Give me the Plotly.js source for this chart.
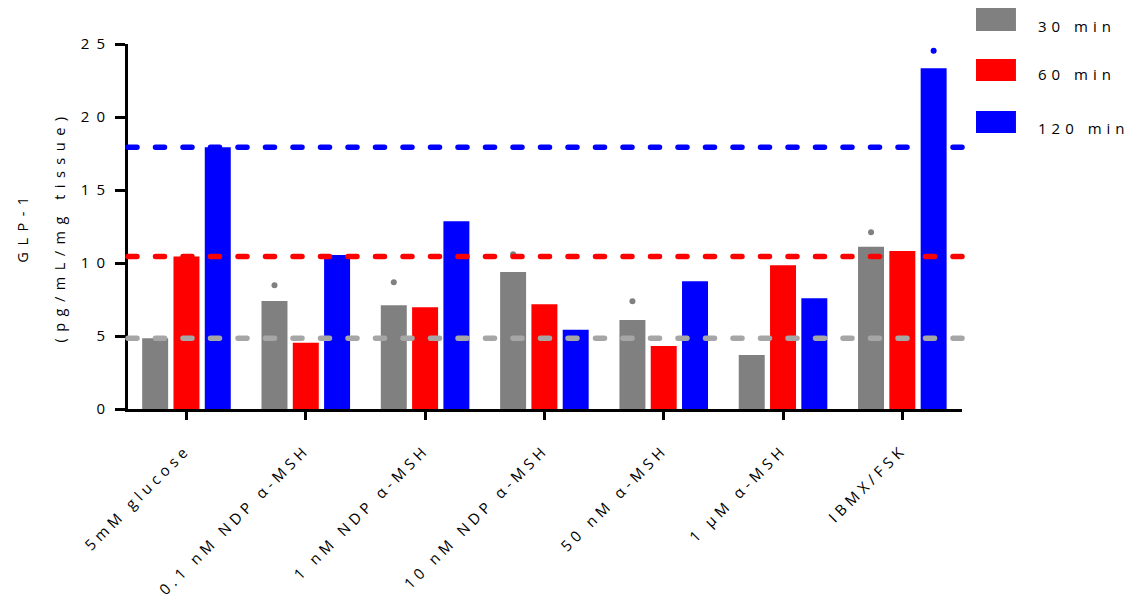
<!DOCTYPE html>
<html>
<head>
<meta charset="utf-8">
<script src="https://cdn.plot.ly/plotly-3.0.1.min.js"></script>
<style>
  html, body { margin: 0; padding: 0; background: #fff; }
  #chart { width: 1138px; height: 600px; }
  /* wide tracking on the labels */
  .xtick text { letter-spacing: 4.5px; }
  .ytick text { letter-spacing: 7px; }
  .g-ytitle text { letter-spacing: 6.5px; }
  .annotation-text { letter-spacing: 5px; }
  /* rounded dash ends on the reference lines */
  .shapelayer path { stroke-linecap: round; }
</style>
</head>
<body>
<div id="chart"></div>
<script>
// Treatments on the x axis
const categories = [
  "5mM glucose",
  "0.1 nM NDP \u03b1-MSH",
  "1 nM NDP \u03b1-MSH",
  "10 nM NDP \u03b1-MSH",
  "50 nM \u03b1-MSH",
  "1 \u00b5M \u03b1-MSH",
  "IBMX/FSK"
];

// Mean GLP-1 secretion (pg/mL/mg tissue) per incubation time
const min30  = [4.84, 7.40, 7.10, 9.38, 6.10, 3.70, 11.12];
const min60  = [10.45, 4.54, 6.97, 7.17, 4.32, 9.84, 10.82];
const min120 = [17.92, 10.55, 12.86, 5.43, 8.75, 7.58, 23.34];

// Single marked points above the bars
const dots30  = [null, 8.47, 8.68, 10.6, 7.38, null, 12.1];
const dots60  = [null, null, null, null, null, null, null];
const dots120 = [null, null, null, null, null, null, 24.54];

const seriesNames = ["30 min", "60 min", "120 min"];
const yTicks = [0, 5, 10, 15, 20, 25];

const colors = ["#808080", "#ff0000", "#0000ff"];
const lineColors = ["#a6a6a6", "#ff0000", "#0000ff"];
const FONT = "Open Sans, DejaVu Sans, sans-serif";

const barSeries = [min30, min60, min120];
const dotSeries = [dots30, dots60, dots120];

const traces = [];
barSeries.forEach((vals, i) => {
  traces.push({
    type: "bar",
    name: seriesNames[i],
    x: categories,
    y: vals,
    marker: { color: colors[i], line: { width: 0 } },
    showlegend: false,
    hoverinfo: "x+y+name"
  });
});
dotSeries.forEach((vals, i) => {
  traces.push({
    type: "scatter",
    mode: "markers",
    name: seriesNames[i],
    x: categories,
    y: vals,
    marker: { color: colors[i], size: 6 },
    showlegend: false,
    cliponaxis: false
  });
});

// Dashed reference lines at the glucose level of each time point
const shapes = barSeries.map((vals, i) => ({
  type: "line",
  xref: "paper", yref: "y",
  x0: 0, x1: 1,
  y0: vals[0], y1: vals[0],
  layer: "above",
  line: { color: lineColors[i], width: 5.5, dash: "9px,18.5px" }
}));

// Legend swatches and labels placed to the right of the plot
const legendY = [[1.0356, 1.0986], [0.8986, 0.959], [0.756, 0.8164]];
const legendTextY = [1.050, 0.918, 0.771];
const annotations = [];
seriesNames.forEach((name, i) => {
  shapes.push({
    type: "rect",
    xref: "paper", yref: "paper",
    x0: 1.0168, x1: 1.0647,
    y0: legendY[i][0], y1: legendY[i][1],
    fillcolor: colors[i],
    line: { width: 0 }
  });
  annotations.push({
    xref: "paper", yref: "paper",
    x: 1.0887, y: legendTextY[i],
    xanchor: "left", yanchor: "middle",
    text: name,
    showarrow: false,
    font: { family: FONT, size: 15, color: "#000" }
  });
});

const layout = {
  width: 1138,
  height: 600,
  margin: { l: 128, r: 176, t: 44, b: 191 },
  paper_bgcolor: "#fff",
  plot_bgcolor: "#fff",
  barmode: "group",
  bargap: 0.213,
  bargroupgap: 0.17,
  scattermode: "group",
  scattergap: 0.213,
  font: { family: FONT, size: 15, color: "#000" },
  xaxis: {
    type: "category",
    range: [-0.49, 6.5],
    showline: true, linecolor: "#000", linewidth: 3,
    ticks: "outside", ticklen: 8, tickwidth: 3, tickcolor: "#000",
    tickangle: -45,
    ticklabelstandoff: 15,
    tickfont: { family: FONT, size: 15, color: "#000" },
    showgrid: false, zeroline: false,
    automargin: false
  },
  yaxis: {
    range: [0, 25],
    tickvals: yTicks,
    showline: true, linecolor: "#000", linewidth: 3,
    ticks: "outside", ticklen: 10, tickwidth: 3, tickcolor: "#000",
    tickfont: { family: FONT, size: 15, color: "#000" },
    showgrid: false, zeroline: false,
    automargin: false,
    title: {
      text: "GLP-1<br><br>(pg/mL/mg tissue)",
      font: { family: FONT, size: 14.5, color: "#000" },
      standoff: 12
    }
  },
  shapes: shapes,
  annotations: annotations,
  showlegend: false
};

Plotly.newPlot("chart", traces, layout, { displayModeBar: false, staticPlot: true });
</script>
</body>
</html>
